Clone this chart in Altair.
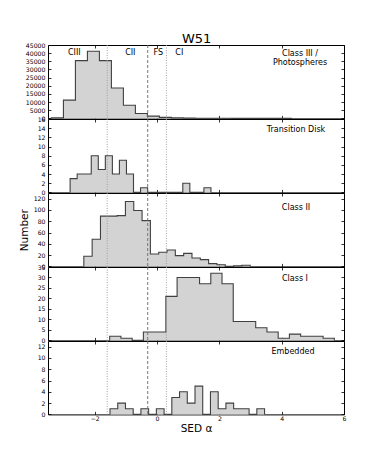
import altair as alt
import numpy as np
import pandas as pd

# ---- data ----
panel_labels = ["Class III /\nPhotospheres", "Transition Disk", "Class II", "Class I", "Embedded"]

c3_range = (-3.39, 4.31)
c3_counts = [300, 11200, 35400, 41200, 35400, 18600, 8100, 3000, 1400, 650,
             300, 180, 120, 80, 50, 30, 20, 10, 5, 2]

td_range = (-2.79, 1.73)
td_counts = [3, 4, 4, 8, 5, 8, 4, 7, 4, 0, 1, 0, 0, 0, 0, 0, 2, 0, 0, 1]

c2_range = (-2.35, 2.99)
c2_counts = [18, 48, 89, 89, 90, 115, 99, 81, 22, 25, 29, 19, 23, 15, 12, 5, 3, 0, 1, 2]

c1_range = (-1.52, 5.69)
c1_counts = [2, 1, 0, 4, 4, 21, 30, 30, 27, 32, 27, 9, 9, 6, 4, 1, 3, 2, 2, 1]

emb_range = (-1.51, 3.45)
emb_counts = [1, 2, 1, 0, 1, 0, 1, 0, 3, 4, 2, 5, 0, 4, 1, 2, 1, 1, 0, 1]

y_domains = [(0, 45000), (0, 16), (0, 130), (0, 35), (0, 13)]
y_ticks = [list(range(0, 45001, 5000)), list(range(0, 17, 2)), list(range(0, 121, 20)),
           list(range(0, 36, 5)), list(range(0, 13, 2))]

class_bounds_dotted = [-1.6, 0.3]
class_bounds_dashed = [-0.3]
class_tags = ["CIII", "CII", "FS", "CI"]

x_domain = (-3.5, 6)
x_ticks = [-2, 0, 2, 4, 6]

W = 296
H = 73.4
FONT = "DejaVu Sans"


def hist_frame(rng, counts):
    edges = np.linspace(rng[0], rng[1], len(counts) + 1)
    xs = [edges[0]] + list(edges)
    ys = [0] + list(counts) + [0]
    idx = list(range(-1, len(counts) + 1))
    return pd.DataFrame({"i": idx, "x": xs, "n": ys})


def inward(orient, labels=False, values=None, title=None, **kw):
    args = dict(orient=orient, offset=-3, tickSize=3, domain=False, grid=False,
                labels=labels, ticks=True, labelPadding=3, format="d", labelFlush=False)
    if values is not None:
        args["values"] = values
    args["title"] = title
    args.update(kw)
    return alt.Axis(**args)


def panel(k, rng, counts, label, label_xy, bottom=False, ytitle=None):
    df = hist_frame(rng, counts)
    xs = alt.Scale(domain=list(x_domain), nice=False, zero=False)
    ys = alt.Scale(domain=list(y_domains[k]), nice=False, zero=False)

    left_axis = inward("left", labels=True, values=y_ticks[k],
                       title=ytitle, titleFontSize=10.5, titleFont=FONT,
                       titleFontWeight="normal", titlePadding=4, titleColor="black")
    if bottom:
        bottom_axis = inward("bottom", labels=True, values=x_ticks, title="SED α",
                             titleFontSize=10.5, titleFont=FONT, titleFontWeight="normal",
                             titlePadding=2, titleColor="black", labelPadding=1)
    else:
        bottom_axis = inward("bottom", values=x_ticks)

    base = alt.Chart(df)
    area = base.transform_filter("datum.i >= 0").mark_area(
        interpolate="step-after", color="#d3d3d3"
    ).encode(
        x=alt.X("x:Q", scale=xs, axis=bottom_axis),
        y=alt.Y("n:Q", scale=ys, axis=left_axis),
    )
    outline = base.mark_line(interpolate="step-after", color="#404040", strokeWidth=1.1).encode(
        x=alt.X("x:Q", scale=xs, axis=inward("top", values=x_ticks)),
        y=alt.Y("n:Q", scale=ys, axis=inward("right", values=y_ticks[k])),
        order=alt.Order("i:Q"),
    )
    dotted = alt.Chart(pd.DataFrame({"b": class_bounds_dotted})).mark_rule(
        color="#9a9a9a", strokeDash=[1, 1.5], strokeWidth=0.9
    ).encode(x=alt.X("b:Q", scale=xs, axis=None))
    dashed = alt.Chart(pd.DataFrame({"b": class_bounds_dashed})).mark_rule(
        color="#6a6a6a", strokeDash=[3, 2], strokeWidth=0.9
    ).encode(x=alt.X("b:Q", scale=xs, axis=None))
    text = alt.Chart(pd.DataFrame({"t": [label]})).mark_text(
        font=FONT, fontSize=8, color="black", align="center", baseline="middle", lineBreak="\n",
        lineHeight=9.5
    ).encode(x=alt.value(label_xy[0]), y=alt.value(label_xy[1]), text="t:N")

    layers = [area, outline, dotted, dashed, text]
    if k == 0:
        tag_x = [26.3, 82.3, 110.3, 131.3]
        for t, px in zip(class_tags, tag_x):
            layers.append(
                alt.Chart(pd.DataFrame({"t": [t]})).mark_text(
                    font=FONT, fontSize=8, color="black", align="center", baseline="middle"
                ).encode(x=alt.value(px), y=alt.value(8.3), text="t:N")
            )
    return alt.layer(*layers).resolve_axis(x="independent", y="independent").properties(
        width=W, height=H
    )


p1 = panel(0, c3_range, c3_counts, panel_labels[0], (252, 8.5))
p2 = panel(1, td_range, td_counts, panel_labels[1], (248, 11.3))
p3 = panel(2, c2_range, c2_counts, panel_labels[2], (248, 15), ytitle="Number")
p4 = panel(3, c1_range, c1_counts, panel_labels[3], (247, 12))
p5 = panel(4, emb_range, emb_counts, panel_labels[4], (245, 11.3), bottom=True)

chart = alt.vconcat(p1, p2, p3, p4, p5, spacing=0, bounds="flush").properties(
    title=alt.TitleParams("W51", fontSize=13, font=FONT, fontWeight="normal", color="black",
                          anchor="middle", offset=-4, dx=14),
    padding={"left": 10, "top": 24, "right": 5, "bottom": 5},
).configure_view(stroke="black", strokeWidth=1).configure_axis(
    labelFont=FONT, labelFontSize=6.2, labelColor="black", tickColor="black", tickWidth=0.8
)

chart.save("out.html", embed_options={"renderer": "svg", "actions": False})
